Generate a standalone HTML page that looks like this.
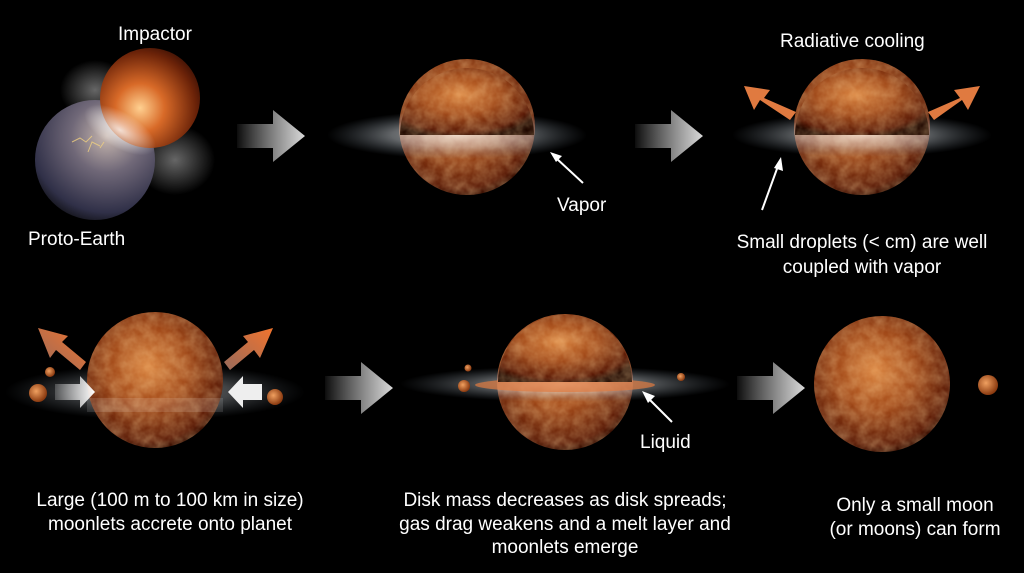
<!DOCTYPE html>
<html><head><meta charset="utf-8"><style>
html,body{margin:0;padding:0;background:#000;}
svg{display:block;}
text{font-family:"Liberation Sans",sans-serif;fill:#fff;}
</style></head><body>
<svg width="1024" height="573" viewBox="0 0 1024 573" xmlns="http://www.w3.org/2000/svg">
<defs>
<radialGradient id="pl" cx="0.45" cy="0.4" r="0.65">
<stop offset="0" stop-color="#d8803c"/><stop offset="0.45" stop-color="#a04818"/><stop offset="0.85" stop-color="#5a1a06"/><stop offset="1" stop-color="#200800"/></radialGradient>
<radialGradient id="imp" cx="0.4" cy="0.6" r="0.7">
<stop offset="0" stop-color="#ffd090"/><stop offset="0.35" stop-color="#d86a28"/><stop offset="0.8" stop-color="#6a2208"/><stop offset="1" stop-color="#300c04"/></radialGradient>
<radialGradient id="pe" cx="0.6" cy="0.3" r="0.75">
<stop offset="0" stop-color="#c8b8b0"/><stop offset="0.4" stop-color="#706878"/><stop offset="0.85" stop-color="#303048"/><stop offset="1" stop-color="#121218"/></radialGradient>
<radialGradient id="disk" cx="0.5" cy="0.5" r="0.5">
<stop offset="0" stop-color="#fff" stop-opacity="0.95"/><stop offset="0.5" stop-color="#dde4ea" stop-opacity="0.6"/><stop offset="1" stop-color="#89a" stop-opacity="0"/></radialGradient>
<radialGradient id="glow" cx="0.5" cy="0.5" r="0.5">
<stop offset="0" stop-color="#fff" stop-opacity="0.8"/><stop offset="1" stop-color="#fff" stop-opacity="0"/></radialGradient>
<radialGradient id="moon" cx="0.4" cy="0.4" r="0.6">
<stop offset="0" stop-color="#f0a060"/><stop offset="1" stop-color="#8a3a10"/></radialGradient>
<linearGradient id="arr" x1="0" x2="1"><stop offset="0" stop-color="#fff" stop-opacity="0.05"/><stop offset="1" stop-color="#d8d8d8"/></linearGradient>
<linearGradient id="oarr" x1="0" y1="1" x2="1" y2="0"><stop offset="0" stop-color="#a07060"/><stop offset="1" stop-color="#ff7a30"/></linearGradient>
<linearGradient id="warr" x1="0" x2="1"><stop offset="0" stop-color="#fff" stop-opacity="0.2"/><stop offset="1" stop-color="#fff"/></linearGradient>
<filter id="tex"><feTurbulence type="fractalNoise" baseFrequency="0.09" numOctaves="3" seed="3"/><feColorMatrix values="0 0 0 0 1  0 0 0 0 0.7  0 0 0 0 0.35  0 0 0 -1.4 1.15"/><feComposite in2="SourceGraphic" operator="in"/></filter>
<g id="planet"><circle r="68" fill="url(#pl)"/><circle r="68" fill="#fff" filter="url(#tex)" opacity="0.35"/></g>
<path id="garrow" d="M0,-12 H36 V-26 L68,0 L36,26 V12 H0 Z" fill="url(#arr)"/>
</defs>
<rect width="1024" height="573" fill="#000"/>

<!-- Panel 1 -->
<ellipse cx="95" cy="90" rx="35" ry="30" fill="url(#glow)" opacity="0.5"/>
<ellipse cx="175" cy="160" rx="40" ry="35" fill="url(#glow)" opacity="0.5"/>
<circle cx="95" cy="160" r="60" fill="url(#pe)"/>
<circle cx="150" cy="98" r="50" fill="url(#imp)"/>
<ellipse cx="120" cy="130" rx="40" ry="18" fill="url(#glow)" transform="rotate(30 120 130)"/>
<path d="M72,142 l8,-4 6,4 6,-6 M88,152 l4,-10 8,4 M100,148 l4,-6" stroke="#f0d080" stroke-width="1" fill="none" opacity="0.8"/>
<text x="118" y="40" font-size="19">Impactor</text>
<text x="28" y="245" font-size="19">Proto-Earth</text>
<use href="#garrow" x="237" y="136"/>

<!-- Panel 2 -->
<use href="#planet" x="467" y="127"/>
<ellipse cx="457" cy="135" rx="130" ry="24" fill="url(#disk)" opacity="0.75"/>
<path d="M400,135 A67,67 0 0 1 534,135 Z" fill="url(#pl)"/>
<path d="M400,135 A67,67 0 0 1 534,135 Z" fill="#fff" filter="url(#tex)" opacity="0.35"/>
<line x1="583" y1="183" x2="556" y2="158" stroke="#fff" stroke-width="2"/>
<path d="M550,152 L562,156 L556,162 Z" fill="#fff"/>
<text x="557" y="211" font-size="19">Vapor</text>
<use href="#garrow" x="635" y="136"/>

<!-- Panel 3 -->
<use href="#planet" x="862" y="127"/>
<ellipse cx="862" cy="135" rx="130" ry="22" fill="url(#disk)" opacity="0.7"/>
<path d="M795,135 A67,67 0 0 1 929,135 Z" fill="url(#pl)"/>
<path d="M795,135 A67,67 0 0 1 929,135 Z" fill="#fff" filter="url(#tex)" opacity="0.35"/>
<polygon points="790,120 760,100 754,110 744,86 770,90 764,98 796,112" fill="#e07a40"/>
<polygon points="934,120 962,100 968,110 980,86 954,90 960,98 928,112" fill="#e07a40"/>
<line x1="762" y1="210" x2="778" y2="166" stroke="#fff" stroke-width="2"/>
<path d="M781,157 L783,171 L774,168 Z" fill="#fff"/>
<text x="780" y="47" font-size="19">Radiative  cooling</text>
<text x="862" y="248" font-size="19" text-anchor="middle">Small droplets (&lt; cm) are well</text>
<text x="862" y="273" font-size="19" text-anchor="middle">coupled with vapor</text>

<!-- Panel 4 -->
<ellipse cx="155" cy="392" rx="150" ry="28" fill="url(#disk)" opacity="0.5"/>
<use href="#planet" x="155" y="380"/>
<rect x="87" y="398" width="136" height="14" fill="#fff" opacity="0.12"/>
<circle cx="38" cy="393" r="9" fill="url(#moon)"/>
<circle cx="50" cy="372" r="5" fill="url(#moon)"/>
<circle cx="275" cy="397" r="8" fill="url(#moon)"/>
<polygon points="55,384 80,384 80,376 95,392 80,408 80,400 55,400" fill="url(#warr)"/>
<polygon points="262,384 243,384 243,376 228,392 243,408 243,400 262,400" fill="#eee"/>
<polygon points="80,370 56,350 50,358 38,328 68,336 62,342 86,362" fill="url(#oarr)" opacity="0.95"/>
<polygon points="230,370 254,350 260,358 273,328 243,336 248,342 224,362" fill="url(#oarr)" opacity="0.95"/>
<use href="#garrow" x="325" y="388"/>
<text x="170" y="506" font-size="19" text-anchor="middle">Large (100 m to 100 km in size)</text>
<text x="170" y="530" font-size="19" text-anchor="middle">moonlets accrete onto planet</text>

<!-- Panel 5 -->
<use href="#planet" x="565" y="382"/>
<ellipse cx="565" cy="384" rx="165" ry="18" fill="url(#disk)" opacity="0.65"/>
<ellipse cx="565" cy="385" rx="90" ry="7" fill="#e07a40" opacity="0.7"/>
<path d="M498,382 A67,67 0 0 1 632,382 Z" fill="url(#pl)"/>
<path d="M498,382 A67,67 0 0 1 632,382 Z" fill="#fff" filter="url(#tex)" opacity="0.35"/>
<circle cx="464" cy="386" r="6" fill="url(#moon)"/>
<circle cx="468" cy="368" r="3.5" fill="url(#moon)"/>
<circle cx="681" cy="377" r="4" fill="url(#moon)"/>
<line x1="672" y1="422" x2="648" y2="398" stroke="#fff" stroke-width="2"/>
<path d="M642,391 L655,396 L648,403 Z" fill="#fff"/>
<text x="640" y="448" font-size="19">Liquid</text>
<use href="#garrow" x="737" y="388"/>
<text x="565" y="506" font-size="19" text-anchor="middle">Disk mass decreases as disk spreads;</text>
<text x="565" y="530" font-size="19" text-anchor="middle">gas drag weakens and a melt layer and</text>
<text x="565" y="553" font-size="19" text-anchor="middle">moonlets emerge</text>

<!-- Panel 6 -->
<use href="#planet" x="882" y="384"/>
<circle cx="988" cy="385" r="10" fill="url(#moon)"/>
<text x="915" y="511" font-size="19" text-anchor="middle">Only a small moon</text>
<text x="915" y="535" font-size="19" text-anchor="middle">(or moons) can form</text>
</svg>
</body></html>
